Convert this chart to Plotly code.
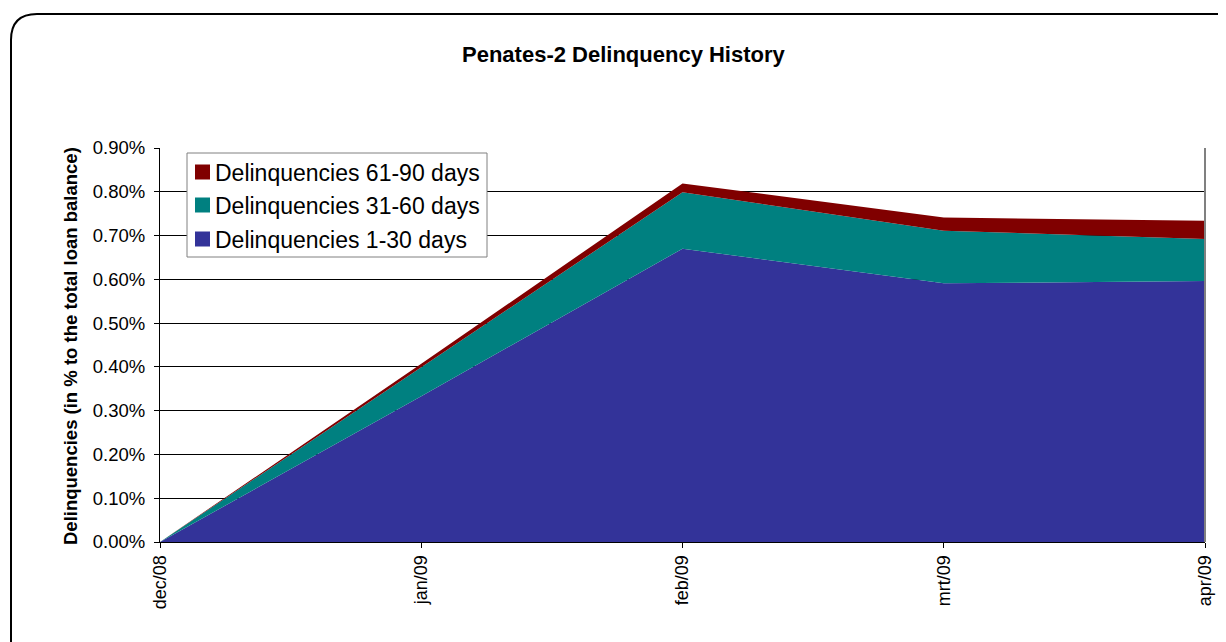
import plotly.graph_objects as go

months = ["dec/08", "jan/09", "feb/09", "mrt/09", "apr/09"]
d1_30 = [0.0, 0.333, 0.670, 0.591, 0.596]
d31_60 = [0.0, 0.066, 0.129, 0.120, 0.096]
d61_90 = [0.0, 0.008, 0.020, 0.030, 0.042]
series_names = ["Delinquencies 1-30 days", "Delinquencies 31-60 days", "Delinquencies 61-90 days"]
series_colors = ["#333399", "#008080", "#800000"]
y_ticks = [0.0, 0.1, 0.2, 0.3, 0.4, 0.5, 0.6, 0.7, 0.8, 0.9]

W, H = 1226, 642
OFF = 8  # page body margin
# plot area in screen pixels
SX0, SX1, SY0, SY1 = 160, 1205, 148, 542
L = SX0 - OFF
R = W - (SX1 - OFF)
T = SY0 - OFF
B = H - (SY1 - OFF)
FONT = "Arial, 'Liberation Sans', sans-serif"

fig = go.Figure()
for name, vals, col in zip(series_names, [d1_30, d31_60, d61_90], series_colors):
    fig.add_trace(go.Scatter(
        x=months, y=vals, name=name, stackgroup="one", mode="none",
        fillcolor=col, line=dict(width=0), showlegend=False,
    ))

def px_x(p):
    return (p - SX0) / (SX1 - SX0)

def px_y(p):
    return (SY1 - p) / (SY1 - SY0)

shapes = []
annotations = []

# rounded outer border
x0, y0, r = 11, 14, 26
x1, y1 = 1260, 680
path = (f"M {px_x(x0)},{px_y(y1)} L {px_x(x0)},{px_y(y0 + r)} "
        f"Q {px_x(x0)},{px_y(y0)} {px_x(x0 + r)},{px_y(y0)} "
        f"L {px_x(x1)},{px_y(y0)}")
shapes.append(dict(type="path", path=path, xref="paper", yref="paper",
                   line=dict(color="black", width=2)))

# gray right border of plot area
shapes.append(dict(type="line", xref="paper", yref="paper", x0=1, x1=1, y0=0, y1=1,
                   line=dict(color="#808080", width=2)))

# legend box (manual)
lx0, ly0, lx1, ly1 = 187, 153, 487, 257
shapes.append(dict(type="rect", xref="paper", yref="paper",
                   x0=px_x(lx0), x1=px_x(lx1), y0=px_y(ly1), y1=px_y(ly0),
                   fillcolor="white", line=dict(color="#808080", width=1), layer="above"))
rows = [172, 205, 239]
for ry, name, col in zip(rows, series_names[::-1], series_colors[::-1]):
    shapes.append(dict(type="rect", xref="paper", yref="paper",
                       x0=px_x(195), x1=px_x(210), y0=px_y(ry + 7.5), y1=px_y(ry - 7.5),
                       fillcolor=col, line=dict(width=0), layer="above"))
    annotations.append(dict(text=name, x=px_x(213), y=px_y(ry + 1), xref="paper", yref="paper",
                            showarrow=False, xanchor="left", yanchor="middle",
                            font=dict(size=23, family=FONT, color="black")))

annotations.append(dict(text="<b>Penates-2 Delinquency History</b>", x=px_x(624), y=px_y(55),
                        xref="paper", yref="paper", showarrow=False,
                        font=dict(size=22, family=FONT), xanchor="center", yanchor="middle"))
annotations.append(dict(text="<b>Delinquencies (in % to the total loan balance)</b>",
                        x=px_x(70), y=px_y(346), xref="paper", yref="paper", showarrow=False,
                        textangle=-90, font=dict(size=18.5, family=FONT),
                        xanchor="center", yanchor="middle"))

fig.update_layout(
    width=W, height=H,
    margin=dict(l=L, r=R, t=T, b=B),
    paper_bgcolor="white", plot_bgcolor="white",
    font=dict(family=FONT, color="black", size=18),
    showlegend=False,
    shapes=shapes,
    annotations=annotations,
)
fig.update_xaxes(
    type="category", range=[0, 4], tickangle=-90, ticks="outside", ticklen=5,
    tickcolor="black", showline=True, linecolor="black", linewidth=1,
    showgrid=False, tickfont=dict(size=18, family=FONT), zeroline=False,
)
fig.update_yaxes(
    range=[0, 0.9], tickvals=y_ticks, ticktext=[f"{v:.2f}%" for v in y_ticks],
    ticks="outside", ticklen=5, tickcolor="black", showline=True, linecolor="black",
    linewidth=1, showgrid=True, gridcolor="black", gridwidth=1, zeroline=False,
    tickfont=dict(size=18.5, family=FONT), ticklabelstandoff=5,
)

fig.write_html("out.html")
